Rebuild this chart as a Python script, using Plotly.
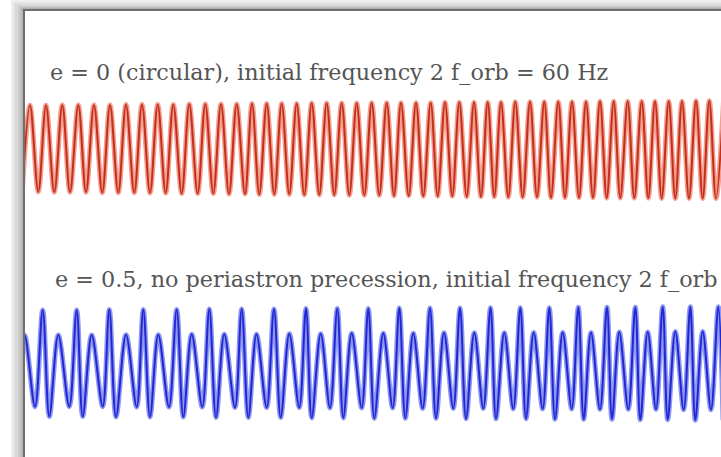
import plotly.graph_objects as go

# ---- waveform data: times (ms) of extrema and their strain values (arbitrary units)

# e = 0 (circular) signal: peaks and troughs of the chirping sinusoid
red_peak_t = [5, 21, 37.3, 53.3, 69, 85, 101, 117, 132.7, 148.3, 164.3, 180.3,
              196, 211.7, 227, 241.7, 256.7, 271.7, 286.7, 301.7, 316.7, 331.7,
              346.7, 361.7, 376, 391, 405.7, 420, 434.3, 449, 462.7, 476, 490.3,
              505, 519.3, 533.3, 547, 561, 575, 588.7, 602.7, 616.7, 630, 643.7,
              657, 671, 684.3, 698.5]
red_peak_h = [0.97, 0.97, 0.98, 0.98, 0.98, 0.98, 0.99, 0.99, 0.99, 0.99, 1.00, 1.00,
              1.00, 1.00, 1.01, 1.01, 1.01, 1.01, 1.02, 1.02, 1.02, 1.02, 1.03, 1.03,
              1.03, 1.03, 1.03, 1.04, 1.04, 1.04, 1.04, 1.04, 1.05, 1.05, 1.05, 1.05,
              1.05, 1.05, 1.06, 1.06, 1.06, 1.06, 1.06, 1.06, 1.06, 1.07, 1.07, 1.07]
red_trough_t = [-2.7, 13.3, 29.3, 45, 61, 77.3, 93.3, 109.3, 125, 140.7, 156.7, 172.7,
                188.3, 204, 220, 234.3, 249.3, 264.3, 279.3, 294.3, 309.3, 324.3,
                339.3, 354.3, 369, 383.7, 398.3, 412.7, 427.3, 441.7, 456, 469.3,
                483.3, 497.7, 512, 526, 540, 554, 568, 581.7, 595.3, 609.3, 623.3,
                636.7, 650.3, 664, 677.7, 691]
red_trough_h = [-0.95, -0.95, -0.96, -0.96, -0.96, -0.97, -0.97, -0.97, -0.98, -0.98,
                -0.99, -0.99, -0.99, -1.00, -1.00, -1.01, -1.01, -1.01, -1.02, -1.02,
                -1.02, -1.03, -1.03, -1.03, -1.04, -1.04, -1.05, -1.05, -1.05, -1.06,
                -1.06, -1.06, -1.07, -1.07, -1.07, -1.08, -1.08, -1.08, -1.08, -1.09,
                -1.09, -1.09, -1.09, -1.10, -1.10, -1.10, -1.10, -1.10]

# e = 0.5 signal: each orbit gives a tall peak, a deep trough, a small peak and a shallow trough
blue_big_t = [17.7, 51.7, 84.3, 118.3, 151.7, 184.3, 216.7, 249, 281, 312.3, 343.3,
              374.3, 405, 435, 465.5, 495.3, 524.3, 553.3, 582, 610.3, 637.7, 665.3, 693.3]
blue_big_h = [1.18, 1.18, 1.19, 1.19, 1.19, 1.20, 1.20, 1.20, 1.21, 1.21, 1.21, 1.22,
              1.22, 1.22, 1.23, 1.23, 1.23, 1.24, 1.24, 1.24, 1.25, 1.25, 1.25]
blue_deep_t = [-9, 24.3, 57.7, 91, 125, 158.3, 191, 223.3, 255.7, 286.7, 318.3, 349.3,
               380.3, 411, 441, 471, 501, 530, 558.7, 587, 615.3, 642.7, 670.3, 698]
blue_deep_h = [-1.19, -1.19, -1.19, -1.20, -1.20, -1.20, -1.21, -1.21, -1.21, -1.22,
               -1.22, -1.23, -1.23, -1.23, -1.24, -1.24, -1.24, -1.25, -1.25, -1.25,
               -1.26, -1.26, -1.27, -1.27]
blue_small_t = [-0.5, 33.3, 66.7, 101, 133.3, 166.7, 199.3, 231.5, 264.3, 295.7, 326.7,
                358.3, 388.3, 419, 449.3, 479.3, 508.7, 537.7, 566, 594.3, 622.7, 650.3, 677.7]
blue_small_h = [0.62, 0.62, 0.62, 0.63, 0.63, 0.64, 0.64, 0.64, 0.65, 0.65, 0.66, 0.66,
                0.66, 0.67, 0.67, 0.67, 0.68, 0.68, 0.68, 0.69, 0.69, 0.70, 0.70]
blue_shallow_t = [10, 44.3, 77.7, 111.7, 144, 177.3, 210, 241.7, 274.3, 305, 336.7,
                  367.7, 397.7, 428.3, 458.3, 488.3, 517.7, 546.7, 575, 603.3, 631, 658.7, 686]
blue_shallow_h = [-0.97, -0.97, -0.97, -0.98, -0.98, -0.98, -0.99, -0.99, -0.99, -1.00,
                  -1.00, -1.00, -1.01, -1.01, -1.01, -1.02, -1.02, -1.02, -1.03, -1.03,
                  -1.03, -1.04, -1.04]

label_circular = "e = 0 (circular), initial frequency 2 f_orb = 60 Hz"
label_eccentric = "e = 0.5, no periastron precession, initial frequency 2 f_orb"


def merge(*pairs):
    pts = []
    for ts, hs in pairs:
        pts.extend(zip(ts, hs))
    pts.sort()
    return [p[0] for p in pts], [p[1] for p in pts]


red_t, red_h = merge((red_peak_t, red_peak_h), (red_trough_t, red_trough_h))
blue_t, blue_h = merge((blue_big_t, blue_big_h), (blue_deep_t, blue_deep_h),
                       (blue_small_t, blue_small_h), (blue_shallow_t, blue_shallow_h))

W, H = 721, 457
LEFT = 25          # left edge of the panel, px
T_SPAN = 696       # visible time span, ms
Y_HALF = 1.6       # half-range of each strain axis
PX_PER_UNIT = 45


def ydomain(center_px):
    top = center_px - Y_HALF * PX_PER_UNIT
    bot = center_px + Y_HALF * PX_PER_UNIT
    return [(H - bot) / H, (H - top) / H]


fig = go.Figure()

for t, h, xa, ya, halo, core in [
    (red_t, red_h, "x", "y", "#f4a090", "#c42f1c"),
    (blue_t, blue_h, "x2", "y2", "#8d98f2", "#2327d2"),
]:
    fig.add_trace(go.Scatter(x=t, y=h, xaxis=xa, yaxis=ya, mode="lines",
                             line=dict(color=halo, width=5, shape="spline", smoothing=1.0),
                             hoverinfo="skip", showlegend=False))
    fig.add_trace(go.Scatter(x=t, y=h, xaxis=xa, yaxis=ya, mode="lines",
                             line=dict(color=core, width=2, shape="spline", smoothing=1.0),
                             hoverinfo="skip", showlegend=False))

axis_common = dict(visible=False, showgrid=False, zeroline=False, fixedrange=True)
fig.update_layout(
    width=W, height=H,
    margin=dict(l=0, r=0, t=0, b=0),
    paper_bgcolor="white", plot_bgcolor="rgba(0,0,0,0)",
    xaxis=dict(domain=[LEFT / W, 1], range=[0, T_SPAN], **axis_common),
    xaxis2=dict(domain=[LEFT / W, 1], range=[0, T_SPAN], anchor="y2", **axis_common),
    yaxis=dict(domain=ydomain(149), range=[-Y_HALF, Y_HALF], **axis_common),
    yaxis2=dict(domain=ydomain(363), range=[-Y_HALF, Y_HALF], anchor="x2", **axis_common),
)

# soft drop shadow along the top and left of the panel, then its border
shapes = []
shadow_steps = [("#efefef", 11, 0), ("#e4e4e4", 13, 2), ("#d9d9d9", 15, 4),
                ("#cccccc", 18, 6), ("#bfbfbf", 20, 7), ("#b0b0b0", 22, 8)]
for color, x0, y0 in shadow_steps:
    shapes.append(dict(type="rect", xref="paper", yref="paper",
                       x0=x0 / W, x1=1, y0=0, y1=1 - y0 / H,
                       fillcolor=color, line=dict(width=0), layer="below"))
shapes.append(dict(type="rect", xref="paper", yref="paper",
                   x0=LEFT / W, x1=1, y0=0, y1=1 - 10 / H,
                   fillcolor="white", line=dict(width=0), layer="below"))
shapes.append(dict(type="line", xref="paper", yref="paper",
                   x0=24 / W, x1=24 / W, y0=0, y1=1 - 9 / H,
                   line=dict(color="#6e6e6e", width=2), layer="below"))
shapes.append(dict(type="line", xref="paper", yref="paper",
                   x0=23 / W, x1=1, y0=1 - 10 / H, y1=1 - 10 / H,
                   line=dict(color="#6e6e6e", width=2), layer="below"))
fig.update_layout(shapes=shapes)

font = dict(family="DejaVu Serif", size=22.3, color="#555555")
fig.add_annotation(text=label_circular, xref="paper", yref="paper",
                   x=48 / W, y=1 - 72 / H, xanchor="left", yanchor="middle",
                   showarrow=False, font=font)
fig.add_annotation(text=label_eccentric, xref="paper", yref="paper",
                   x=53 / W, y=1 - 279 / H, xanchor="left", yanchor="middle",
                   showarrow=False, font=font)

fig.write_html("out.html", config={"displayModeBar": False})
